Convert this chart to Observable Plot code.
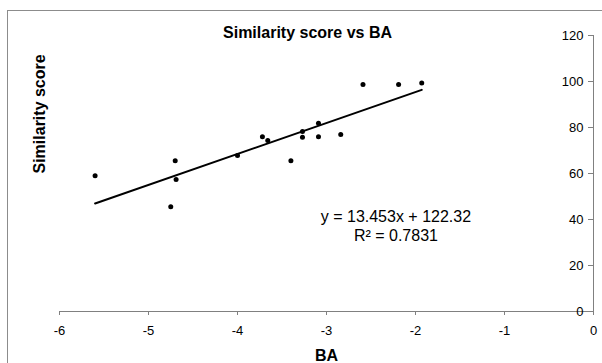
<!DOCTYPE html>
<html>
<head>
<meta charset="utf-8">
<script src="https://cdn.jsdelivr.net/npm/d3@7"></script>
<script src="https://cdn.jsdelivr.net/npm/@observablehq/plot@0.6"></script>
<style>
  html, body { margin: 0; padding: 0; background: #fff; }
  #chart svg { display: block; }
</style>
</head>
<body>
<div id="chart"></div>
<script>
// Data
const ba = [-5.60, -4.70, -4.69, -4.75, -4.00, -3.72, -3.66, -3.40, -3.27, -3.27, -3.09, -3.09, -2.84, -2.59, -2.19, -1.93];
const score = [59.0, 65.5, 57.4, 45.5, 67.8, 76.0, 74.3, 65.5, 78.3, 75.8, 81.9, 76.0, 77.0, 98.7, 98.7, 99.3];
const xTicks = [-6, -5, -4, -3, -2, -1, 0];
const yTicks = [0, 20, 40, 60, 80, 100, 120];
const slope = [13.453];
const intercept = [122.32];
const r2 = ["0.7831"];
const titleText = ["Similarity score vs BA"];
const xLabel = ["BA"];
const yLabel = ["Similarity score"];
const eqLabel = [`y = ${slope[0]}x + ${intercept[0]}\nR² = ${r2[0]}`];
const eqPos = { x: -2.22, y: 37.6 };

const points = ba.map((x, i) => ({ x, y: score[i] }));
const xExt = d3.extent(ba);
const trend = xExt.map(x => ({ x, y: slope[0] * x + intercept[0] }));

const font = "'Liberation Sans', Arial, sans-serif";
const axisGray = "#808080";

const plot = Plot.plot({
  width: 602,
  height: 363,
  marginLeft: 59,
  marginRight: 9,
  marginTop: 35,
  marginBottom: 52,
  style: { fontFamily: font, background: "#fff", overflow: "visible" },
  x: { domain: [-6, 0], axis: null },
  y: { domain: [0, 120], axis: null },
  marks: [
    Plot.ruleY([0], { stroke: axisGray, strokeWidth: 1 }),
    Plot.ruleX([0], { y1: 0, y2: 120, stroke: axisGray, strokeWidth: 1 }),
    Plot.axisX(xTicks, {
      anchor: "bottom", tickSize: 4, tickPadding: 10, stroke: axisGray,
      tickFormat: d => `${d}`, fontSize: 13, label: null, textStroke: null
    }),
    Plot.axisY(yTicks, {
      x: 0, anchor: "left", tickSize: 5, tickPadding: 5, stroke: axisGray,
      tickFormat: d => `${d}`, fontSize: 13, label: null
    }),
    Plot.line(trend, { x: "x", y: "y", stroke: "black", strokeWidth: 2 }),
    Plot.dot(points, { x: "x", y: "y", r: 2.5, fill: "black", stroke: null }),
    Plot.text(eqLabel, {
      x: eqPos.x, y: eqPos.y, text: d => d, textAnchor: "middle",
      lineAnchor: "middle", lineHeight: 1.2, fontSize: 16, fill: "black"
    }),
    Plot.text(titleText, {
      frameAnchor: "top", dx: -19, dy: -3, text: d => d, lineAnchor: "middle",
      fontSize: 16, fontWeight: "bold", fill: "black"
    }),
    Plot.text(yLabel, {
      frameAnchor: "left", dx: -20, rotate: -90, text: d => d, lineAnchor: "middle",
      fontSize: 16, fontWeight: "bold", fill: "black"
    }),
    Plot.text(xLabel, {
      frameAnchor: "bottom", dy: 44, text: d => d, lineAnchor: "middle",
      fontSize: 16, fontWeight: "bold", fill: "black"
    })
  ]
});

// outer chart-area border, as in the reference
d3.select(plot).insert("rect", ":first-child")
  .attr("x", 7.5).attr("y", 10.5).attr("width", 700).attr("height", 500)
  .attr("fill", "none").attr("stroke", "#8c8c8c").attr("stroke-width", 1);

document.getElementById("chart").appendChild(plot);
</script>
</body>
</html>
